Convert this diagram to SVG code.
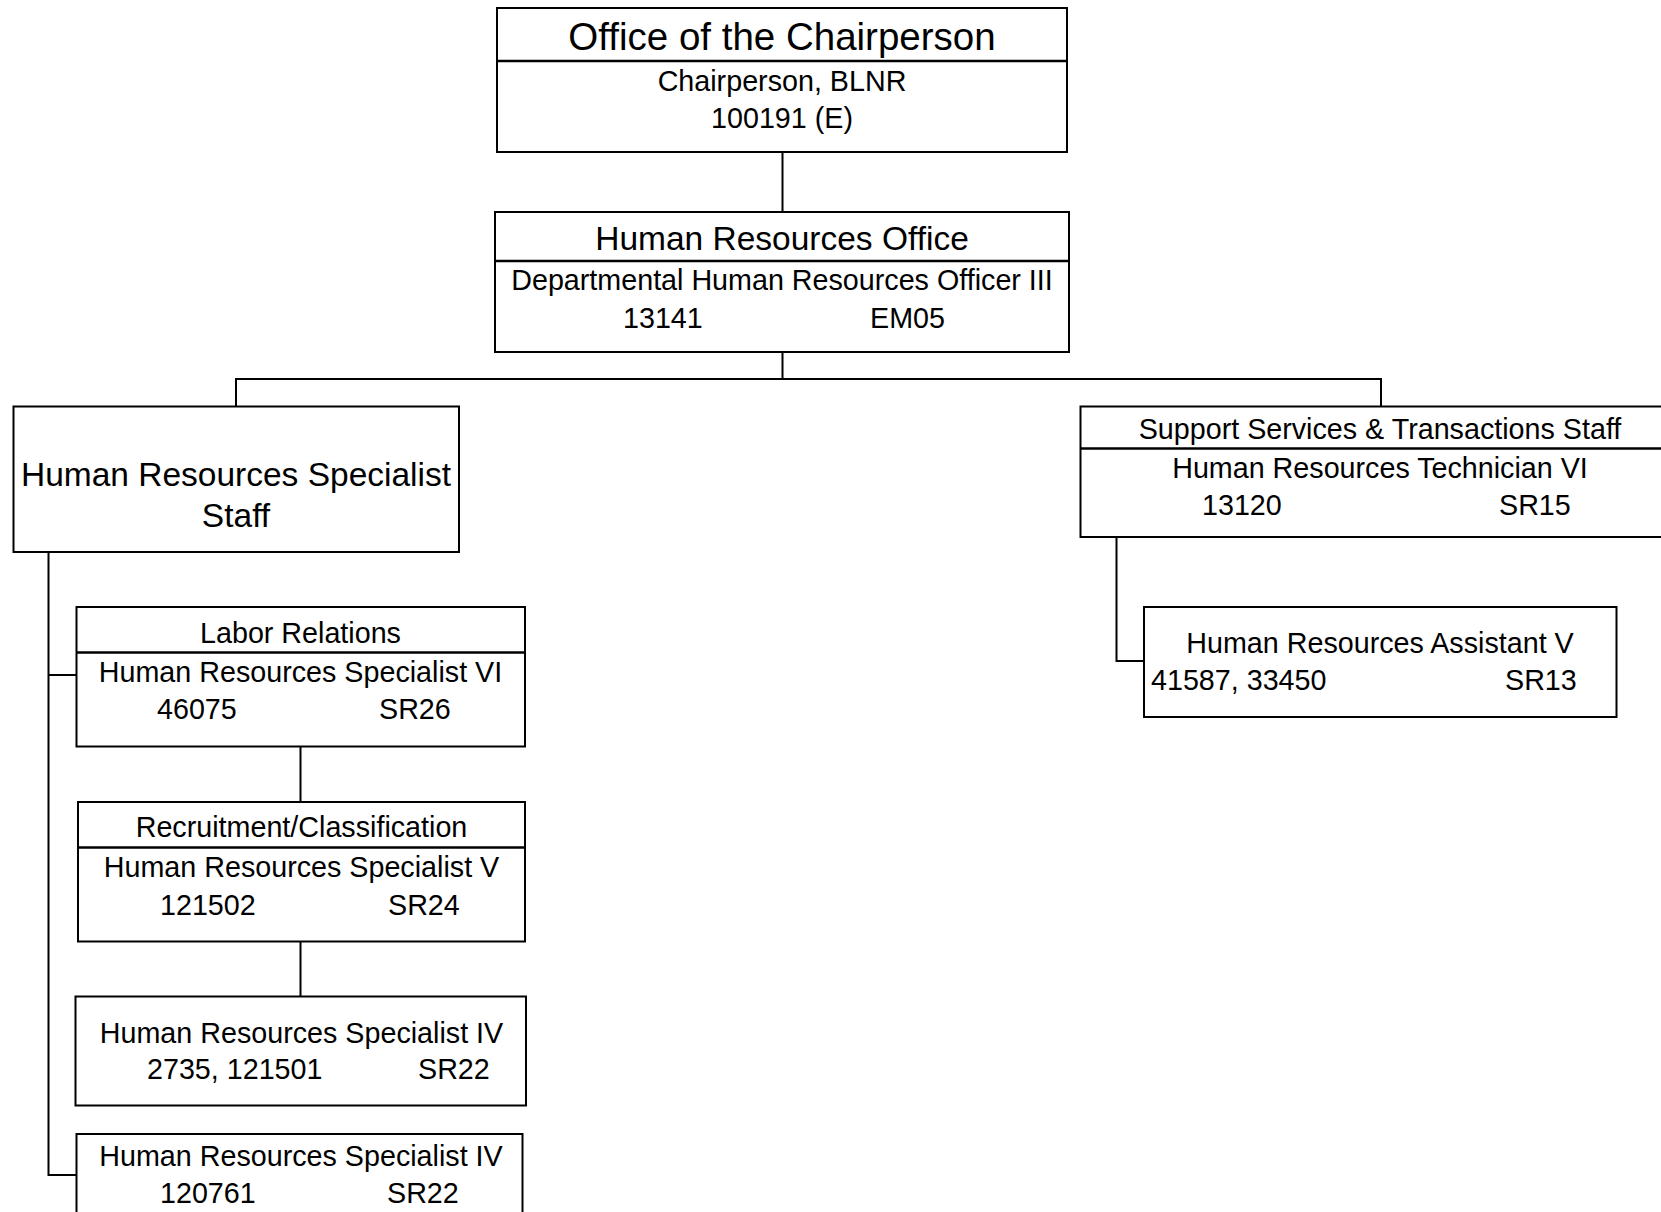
<svg xmlns="http://www.w3.org/2000/svg" width="1661" height="1212" viewBox="0 0 1661 1212">
<style>
.box{fill:#fff;stroke:#000;stroke-width:2}
.div{stroke:#000;stroke-width:2.5}
.con{fill:none;stroke:#000;stroke-width:2}
text{font-family:"Liberation Sans",Arial,sans-serif;fill:#000}
.t1{font-size:38.5px;text-anchor:middle}
.t2{font-size:33.5px;text-anchor:middle}
.s{font-size:28.7px}
.c{text-anchor:middle}
</style>
<rect width="1661" height="1212" fill="#fff"/>
<g id="connectors">
<path class="con" d="M782.5 152V212"/>
<path class="con" d="M782.5 352V379M236 406.5V379H1381V406.5"/>
<path class="con" d="M48.5 552V1175H76.5M48.5 675H76.5"/>
<path class="con" d="M300.5 746.5V802M300.5 941.5V996.5"/>
<path class="con" d="M1116.5 537V661H1144"/>
</g>
<g id="chairperson">
<rect class="box" x="497" y="8" width="570" height="144"/>
<line class="div" x1="497" y1="61" x2="1067" y2="61"/>
<text class="t1" x="782" y="50">Office of the Chairperson</text>
<text class="s c" x="782" y="91">Chairperson, BLNR</text>
<text class="s c" x="782" y="128">100191 (E)</text>
</g>
<g id="hr-office">
<rect class="box" x="495" y="212" width="574" height="140"/>
<line class="div" x1="495" y1="261" x2="1069" y2="261"/>
<text class="t2" x="782" y="250">Human Resources Office</text>
<text class="s c" x="782" y="290">Departmental Human Resources Officer III</text>
<text class="s" x="623" y="328">13141</text>
<text class="s" x="870" y="328">EM05</text>
</g>
<g id="specialist-staff">
<rect class="box" x="13.5" y="406.5" width="445.5" height="145.5"/>
<text class="t2" x="236" y="486">Human Resources Specialist</text>
<text class="t2" x="236" y="527">Staff</text>
</g>
<g id="support-staff">
<rect class="box" x="1080.5" y="406.5" width="620" height="130.5"/>
<line class="div" x1="1080.5" y1="448.5" x2="1700" y2="448.5"/>
<text class="s c" x="1380" y="439">Support Services &amp; Transactions Staff</text>
<text class="s c" x="1380" y="478">Human Resources Technician VI</text>
<text class="s" x="1202" y="515">13120</text>
<text class="s" x="1499" y="515">SR15</text>
</g>
<g id="assistant-v">
<rect class="box" x="1144" y="607" width="472.5" height="110"/>
<text class="s c" x="1380" y="653">Human Resources Assistant V</text>
<text class="s" x="1151" y="690">41587, 33450</text>
<text class="s" x="1505" y="690">SR13</text>
</g>
<g id="labor-relations">
<rect class="box" x="76.5" y="607" width="448.5" height="139.5"/>
<line class="div" x1="76.5" y1="652.5" x2="525" y2="652.5"/>
<text class="s c" x="300.5" y="643">Labor Relations</text>
<text class="s c" x="300.5" y="681.5">Human Resources Specialist VI</text>
<text class="s" x="157" y="719">46075</text>
<text class="s" x="379" y="719">SR26</text>
</g>
<g id="recruitment">
<rect class="box" x="78" y="802" width="447" height="139.5"/>
<line class="div" x1="78" y1="847.5" x2="525" y2="847.5"/>
<text class="s c" x="301.5" y="837">Recruitment/Classification</text>
<text class="s c" x="301.5" y="877">Human Resources Specialist V</text>
<text class="s" x="160" y="915">121502</text>
<text class="s" x="388" y="915">SR24</text>
</g>
<g id="specialist-iv-a">
<rect class="box" x="75.5" y="996.5" width="450.5" height="109"/>
<text class="s c" x="301.5" y="1042.5">Human Resources Specialist IV</text>
<text class="s" x="147" y="1079">2735, 121501</text>
<text class="s" x="418" y="1079">SR22</text>
</g>
<g id="specialist-iv-b">
<rect class="box" x="76.5" y="1134" width="446" height="100"/>
<text class="s c" x="301" y="1166">Human Resources Specialist IV</text>
<text class="s" x="160" y="1202.5">120761</text>
<text class="s" x="387" y="1202.5">SR22</text>
</g>
</svg>
